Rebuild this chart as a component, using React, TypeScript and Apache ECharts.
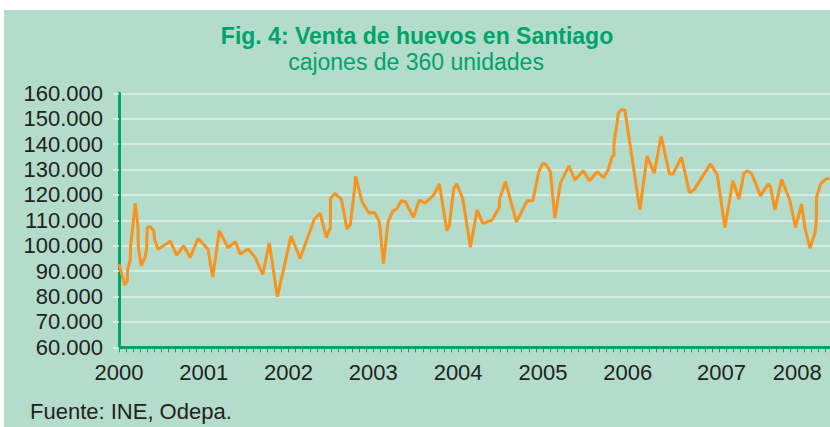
import React, { useEffect, useRef } from "react";
import * as echarts from "echarts";

// Decimal-year position of each observation
const periods: number[] = [
  2000.0, 2000.067, 2000.098, 2000.1, 2000.133, 2000.136, 2000.192, 2000.224, 2000.228, 2000.263,
  2000.31, 2000.327, 2000.328, 2000.334, 2000.369, 2000.409, 2000.421, 2000.46, 2000.605, 2000.681,
  2000.763, 2000.841, 2000.932, 2001.05, 2001.106, 2001.183, 2001.286, 2001.372, 2001.431, 2001.522,
  2001.601, 2001.696, 2001.773, 2001.868, 2002.029, 2002.136, 2002.304, 2002.372, 2002.446, 2002.493,
  2002.495, 2002.545, 2002.623, 2002.69, 2002.729, 2002.781, 2002.791, 2002.867, 2002.946, 2003.017,
  2003.071, 2003.119, 2003.174, 2003.23, 2003.272, 2003.331, 2003.378, 2003.473, 2003.543, 2003.607,
  2003.713, 2003.779, 2003.867, 2003.897, 2003.949, 2003.985, 2004.056, 2004.145, 2004.224, 2004.291,
  2004.401, 2004.487, 2004.489, 2004.558, 2004.688, 2004.814, 2004.881, 2004.952, 2004.999, 2005.03,
  2005.089, 2005.141, 2005.207, 2005.306, 2005.377, 2005.475, 2005.549, 2005.64, 2005.719, 2005.77,
  2005.817, 2005.837, 2005.839, 2005.876, 2005.888, 2005.92, 2005.967, 2006.144, 2006.23, 2006.313,
  2006.395, 2006.493, 2006.533, 2006.635, 2006.729, 2006.781, 2006.977, 2007.056, 2007.147, 2007.241,
  2007.312, 2007.371, 2007.41, 2007.461, 2007.567, 2007.658, 2007.685, 2007.737, 2007.815, 2007.909,
  2007.98, 2008.051, 2008.091, 2008.15, 2008.209, 2008.224, 2008.228, 2008.275, 2008.334, 2008.381,
];

// Sales (cajones de 360 unidades)
const sales: number[] = [
  92800, 84500, 86200, 90400, 94400, 99600, 116700, 107500, 99400, 92000,
  95700, 99400, 102500, 107200, 107500, 105900, 102200, 98600, 101800, 96200,
  99900, 95400, 102800, 98600, 87600, 105900, 99200, 101600, 96700, 98700,
  95700, 88700, 101100, 79900, 103800, 95000, 110400, 112800, 103300, 107100,
  118700, 120600, 118300, 106600, 108400, 123200, 127300, 117300, 113000, 113000,
  109400, 93000, 109400, 113700, 114300, 117700, 117300, 111200, 118000, 116700,
  120000, 124300, 105900, 108100, 122600, 124300, 118300, 99400, 114000, 108800,
  110100, 115100, 118300, 125200, 109400, 117700, 117700, 129100, 132400, 132200,
  129100, 110800, 124600, 131400, 125900, 129500, 125600, 129100, 126900, 129800,
  135300, 135300, 140600, 148400, 152100, 153400, 153400, 114100, 135300, 128500,
  143200, 128200, 128200, 134800, 120900, 121900, 132200, 128000, 107200, 125600,
  118300, 128500, 129400, 128500, 119600, 124300, 123200, 114100, 126100, 118300,
  107200, 116400, 106900, 99000, 104900, 109400, 119100, 124300, 126100, 126500,
];

const yTicks: number[] = [60000, 160000, 10000]; // min, max, step
const xYears: number[] = [2000, 2009];
const yearLabels: number[] = [2000, 2001, 2002, 2003, 2004, 2005, 2006, 2007, 2008];

const titleText = "Fig. 4: Venta de huevos en Santiago";
const subtitleText = "cajones de 360 unidades";
const sourceText = "Fuente: INE, Odepa.";

const GREEN = "#00a36c";
const BG = "#b3dccb";
const FONT = "'Liberation Sans', Arial, Helvetica, sans-serif";

export default function App() {
  const ref = useRef<HTMLDivElement>(null);
  useEffect(() => {
    if (!ref.current) return;
    const chart = echarts.init(ref.current, undefined, { renderer: "svg" });
    const data = periods.map((p, i) => [p, sales[i]]);
    chart.setOption({
      animation: false,
      backgroundColor: "#ffffff",
      graphic: [
        {
          type: "rect",
          z: -10,
          silent: true,
          shape: { x: 4, y: 10, width: 900, height: 420 },
          style: { fill: BG },
        },
        {
          type: "text",
          x: 417,
          y: 36,
          style: {
            text: titleText,
            fontFamily: FONT,
            fontSize: 23,
            fontWeight: "bold",
            fill: GREEN,
            align: "center",
            verticalAlign: "middle",
          },
        },
        {
          type: "text",
          x: 416,
          y: 62,
          style: {
            text: subtitleText,
            fontFamily: FONT,
            fontSize: 23,
            fill: GREEN,
            align: "center",
            verticalAlign: "middle",
          },
        },
        {
          type: "text",
          x: 30,
          y: 411,
          style: {
            text: sourceText,
            fontFamily: FONT,
            fontSize: 22,
            fill: "#222222",
            verticalAlign: "middle",
          },
        },
      ],
      grid: { left: 119, right: 0, top: 93.3, bottom: 79.7, containLabel: false },
      xAxis: {
        type: "value",
        min: xYears[0],
        max: xYears[1],
        interval: 1,
        splitLine: { show: false },
        axisLine: { show: true, lineStyle: { color: GREEN, width: 3 } },
        axisTick: { show: true, length: 5, lineStyle: { color: GREEN, width: 1 } },
        minorTick: { show: true, splitNumber: 12, length: 5, lineStyle: { color: GREEN, width: 1 } },
        axisLabel: {
          margin: 14,
          fontFamily: FONT,
          fontSize: 22,
          color: "#222222",
          showMaxLabel: false,
          formatter: (v: number) => {
            if (yearLabels.indexOf(v) < 0) return "";
            if (v === 2007) return "{s|" + v + "}";
            return String(v);
          },
          rich: {
            s: {
              fontFamily: FONT,
              fontSize: 22,
              color: "#222222",
              padding: [0, 0, 0, 18],
            },
          },
        },
      },
      yAxis: {
        type: "value",
        min: yTicks[0],
        max: yTicks[1],
        interval: yTicks[2],
        axisLine: { show: true, lineStyle: { color: GREEN, width: 3 } },
        axisTick: { show: true, length: 6, lineStyle: { color: "#e2f0e8", width: 1.5 } },
        splitLine: { show: true, lineStyle: { color: "#e2f0e8", width: 1.5 } },
        axisLabel: {
          margin: 16,
          fontFamily: FONT,
          fontSize: 22,
          color: "#222222",
          formatter: (v: number) => {
            const s = String(Math.round(v));
            return s.replace(/\B(?=(\d{3})+(?!\d))/g, ".");
          },
        },
      },
      series: [
        {
          type: "line",
          data,
          showSymbol: false,
          symbol: "none",
          lineStyle: { color: "#f7931e", width: 3 },
          z: 5,
        },
      ],
    });
    return () => chart.dispose();
  }, []);
  return (
    <div
      style={{
        position: "absolute",
        left: 0,
        top: 0,
        width: 830,
        height: 427,
        overflow: "hidden",
      }}
    >
      <div ref={ref} style={{ width: 882, height: 427 }} />
    </div>
  );
}
